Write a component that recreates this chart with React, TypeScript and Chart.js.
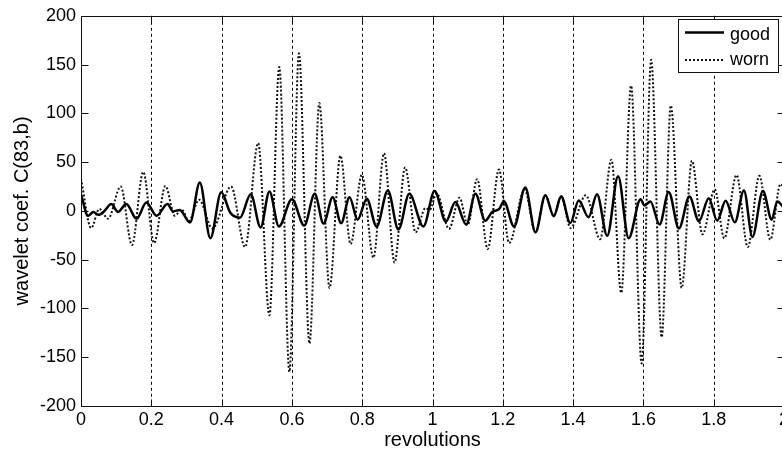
import React, { useEffect, useRef } from 'react';
import { Chart, registerables } from 'chart.js';

Chart.register(...registerables);

// ---- data ----
const seriesLabels = ['good', 'worn'];

const goodX = [
  0.0, 0.02, 0.035, 0.05, 0.067, 0.086, 0.105, 0.129, 0.158, 0.186, 0.215, 0.246, 0.262, 0.281,
  0.31, 0.338, 0.368, 0.399, 0.425, 0.452, 0.483, 0.511, 0.536, 0.563, 0.6, 0.635, 0.665, 0.69,
  0.716, 0.74, 0.764, 0.787, 0.813, 0.841, 0.873, 0.903, 0.934, 0.974, 1.006, 1.038, 1.065, 1.096,
  1.122, 1.15, 1.17, 1.19, 1.203, 1.232, 1.264, 1.293, 1.321, 1.345, 1.366, 1.392, 1.416, 1.444,
  1.468, 1.497, 1.528, 1.558, 1.592, 1.603, 1.62, 1.646, 1.672, 1.701, 1.731, 1.758, 1.786, 1.81,
  1.834, 1.86, 1.886, 1.91, 1.94, 1.965, 1.981, 2.0,
];
const goodY = [
  17, -5, -1, -4, 0, 7, -1, 7, -8, 8.5, -5, 7, -0.5, 1,
  -12, 29, -28, 19, -2, -7, 17, -17, 20, -16, 12, -15, 17.5, -13,
  14, -12.5, 14, -9, 12.5, -16, 21, -19, 17.5, -16, 20.5, -11, 9, -14,
  17.5, -10, -1, 2, 10, -16, 24, -22, 16, -5.5, 15, -12.5, 10.7, -6.5,
  17, -25.5, 35.5, -28, 12, 5.5, 9.7, -14, 19.5, -18, 14.8, -10.7, 13, -10,
  10.4, -11.7, 21, -26.7, 20.5, -9, 9.7, 3,
];

const wornX = [
  0.0, 0.029, 0.052, 0.077, 0.113, 0.145, 0.177, 0.208, 0.24, 0.267, 0.286, 0.307, 0.336, 0.374,
  0.427, 0.467, 0.504, 0.536, 0.564, 0.593, 0.62, 0.65, 0.678, 0.707, 0.738, 0.767, 0.799, 0.832,
  0.862, 0.892, 0.922, 0.952, 0.98, 0.992, 1.012, 1.047, 1.077, 1.1, 1.127, 1.157, 1.189, 1.218,
  1.262, 1.293, 1.321, 1.345, 1.366, 1.393, 1.436, 1.477, 1.509, 1.537, 1.565, 1.595, 1.622, 1.652,
  1.678, 1.709, 1.738, 1.768, 1.803, 1.83, 1.865, 1.897, 1.93, 1.961, 1.99, 2.0,
];
const wornY = [
  33, -17.5, 2, -8, 25, -35, 40, -33, 25.5, -5, 1.5, -10, 11.5, -18,
  25, -37, 69.5, -107, 147.5, -165, 161.5, -136, 110.5, -79, 56.5, -34, 37, -48,
  59, -53, 44.5, -22, 3, 1, 18, -18.5, 13.5, -14.5, 32.5, -39, 42.5, -33,
  22, -22, 16, -5, 14.8, -17.5, 16, -29, 52.5, -84, 128.4, -156.5, 155, -129.5,
  108, -79, 51.5, -24, 22, -28, 36.8, -37, 36, -29.5, 27.5, 24,
];

const xTickValues = [0, 0.2, 0.4, 0.6, 0.8, 1, 1.2, 1.4, 1.6, 1.8, 2];
const xTickLabels = ['0', '0.2', '0.4', '0.6', '0.8', '1', '1.2', '1.4', '1.6', '1.8', '2'];
const yTickValues = [-200, -150, -100, -50, 0, 50, 100, 150, 200];
const yTickLabels = ['-200', '-150', '-100', '-50', '0', '50', '100', '150', '200'];

const xTitle = 'revolutions';
const yTitle = 'wavelet coef. C(83,b)';

const FONT = '"Liberation Sans", Arial, Helvetica, sans-serif';
const CANVAS_W = 800;
const CANVAS_H = 455;

export default function App() {
  const ref = useRef<HTMLCanvasElement>(null);

  useEffect(() => {
    document.documentElement.style.overflow = 'hidden';
    document.body.style.margin = '0';
    document.body.style.overflow = 'hidden';
    const canvas = ref.current;
    if (!canvas) return;

    const framePlugin = {
      id: 'frame',
      beforeDatasetsDraw(chart: any) {
        const { ctx, chartArea: a, scales } = chart;
        const x = scales.x;
        ctx.save();
        ctx.strokeStyle = '#000';
        ctx.lineWidth = 1;
        ctx.setLineDash([3, 3]);
        xTickValues.forEach((v) => {
          if (v <= xTickValues[0] || v >= xTickValues[xTickValues.length - 1]) return;
          const px = Math.round(x.getPixelForValue(v)) + 0.5;
          ctx.beginPath();
          ctx.moveTo(px, a.top);
          ctx.lineTo(px, a.bottom);
          ctx.stroke();
        });
        ctx.restore();
      },
      afterDatasetsDraw(chart: any) {
        const { ctx, chartArea: a, scales } = chart;
        const x = scales.x;
        const y = scales.y;
        const L = Math.round(a.left) + 0.5;
        const R = Math.round(a.right) + 0.5;
        const T = Math.round(a.top) + 0.5;
        const B = Math.round(a.bottom) + 0.5;
        ctx.save();
        ctx.strokeStyle = '#111';
        ctx.lineWidth = 1;
        ctx.setLineDash([]);
        ctx.beginPath();
        ctx.rect(L, T, R - L, B - T);
        ctx.stroke();
        const tl = 7;
        ctx.beginPath();
        yTickValues.forEach((v) => {
          const py = Math.round(y.getPixelForValue(v)) + 0.5;
          ctx.moveTo(L, py);
          ctx.lineTo(L + tl, py);
          ctx.moveTo(R, py);
          ctx.lineTo(R - tl, py);
        });
        xTickValues.forEach((v) => {
          const px = Math.round(x.getPixelForValue(v)) + 0.5;
          ctx.moveTo(px, B);
          ctx.lineTo(px, B - tl);
          ctx.moveTo(px, T);
          ctx.lineTo(px, T + tl);
        });
        ctx.stroke();

        // legend box
        const bx = 678.5, by = 19.5, bw = 100, bh = 53;
        ctx.fillStyle = '#fff';
        ctx.fillRect(bx, by, bw, bh);
        ctx.strokeStyle = '#111';
        ctx.lineWidth = 1;
        ctx.strokeRect(bx, by, bw, bh);
        const ds = chart.data.datasets;
        const rows = [32.5, 60];
        const bases = [40, 65];
        ds.forEach((d: any, i: number) => {
          ctx.save();
          ctx.strokeStyle = d.borderColor;
          ctx.lineWidth = d.borderWidth;
          ctx.setLineDash(d.borderDash || []);
          ctx.beginPath();
          ctx.moveTo(685, rows[i]);
          ctx.lineTo(724, rows[i]);
          ctx.stroke();
          ctx.restore();
          ctx.fillStyle = '#000';
          ctx.font = `18px ${FONT}`;
          ctx.textAlign = 'left';
          ctx.textBaseline = 'alphabetic';
          ctx.fillText(d.label, 730, bases[i]);
        });
        ctx.restore();
      },
    };

    const chart = new Chart(canvas, {
      type: 'line',
      data: {
        datasets: [
          {
            label: seriesLabels[0],
            data: goodX.map((v, i) => ({ x: v, y: goodY[i] })),
            borderColor: '#000',
            borderWidth: 2.5,
            pointRadius: 0,
            cubicInterpolationMode: 'monotone',
            fill: false,
          },
          {
            label: seriesLabels[1],
            data: wornX.map((v, i) => ({ x: v, y: wornY[i] })),
            borderColor: '#111',
            borderWidth: 2,
            borderDash: [2, 2],
            pointRadius: 0,
            cubicInterpolationMode: 'monotone',
            fill: false,
          },
        ],
      },
      options: {
        animation: false,
        responsive: false,
        maintainAspectRatio: false,
        layout: { padding: { left: 0, top: 13, right: CANVAS_W - 784, bottom: 0 } },
        plugins: { legend: { display: false }, tooltip: { enabled: false } },
        scales: {
          x: {
            type: 'linear',
            min: 0,
            max: 2,
            grid: { display: false, drawTicks: false },
            border: { display: false },
            afterBuildTicks: (s: any) => {
              s.ticks = xTickValues.map((v) => ({ value: v }));
            },
            afterFit: (s: any) => {
              s.height = 49;
            },
            ticks: {
              autoSkip: false,
              maxRotation: 0,
              padding: 3,
              color: '#000',
              font: { family: FONT, size: 18 },
              callback: (_v: any, i: number) => xTickLabels[i],
            },
            title: {
              display: true,
              text: xTitle,
              color: '#000',
              font: { family: FONT, size: 20 },
              padding: { top: 0, bottom: 3 },
            },
          },
          y: {
            type: 'linear',
            min: -200,
            max: 200,
            grid: { display: false, drawTicks: false },
            border: { display: false },
            afterBuildTicks: (s: any) => {
              s.ticks = yTickValues.map((v) => ({ value: v }));
            },
            afterFit: (s: any) => {
              s.width = 81;
            },
            ticks: {
              autoSkip: false,
              padding: 5,
              color: '#000',
              font: { family: FONT, size: 18 },
              callback: (_v: any, i: number) => yTickLabels[i],
            },
            title: {
              display: true,
              text: yTitle,
              color: '#000',
              font: { family: FONT, size: 20 },
              padding: { top: 10, bottom: 0 },
            },
          },
        },
      },
      plugins: [framePlugin],
    } as any);

    return () => chart.destroy();
  }, []);

  return (
    <div style={{ width: CANVAS_W, height: CANVAS_H, position: 'relative', overflow: 'hidden' }}>
      <canvas ref={ref} width={CANVAS_W} height={CANVAS_H} style={{ display: 'block' }} />
    </div>
  );
}
